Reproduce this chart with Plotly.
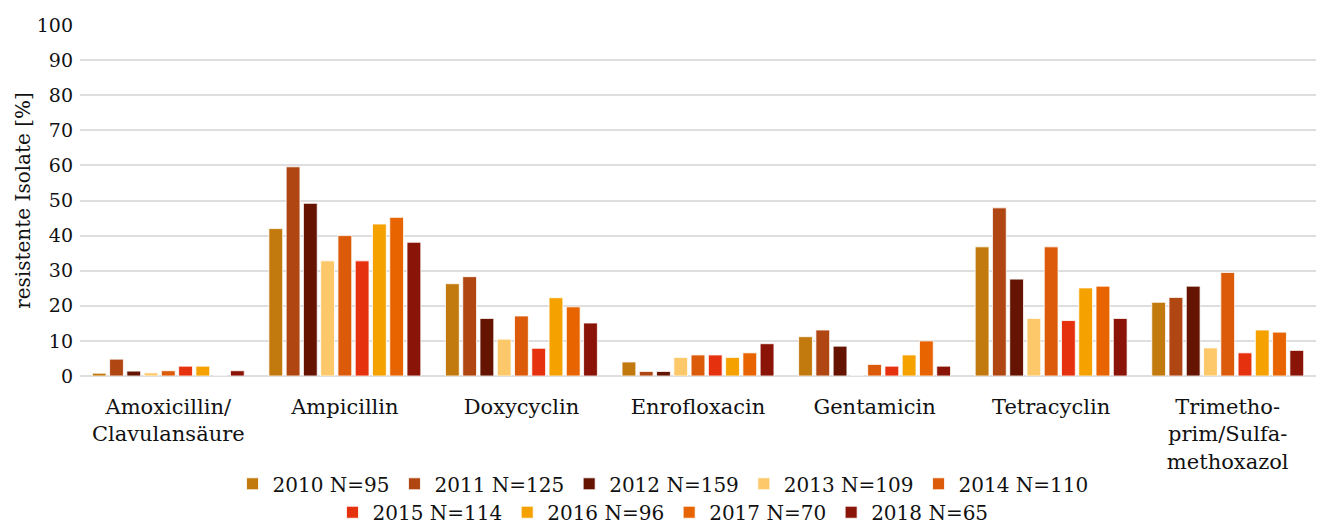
import plotly.graph_objects as go

categories = ["Amoxicillin/<br>Clavulansäure", "Ampicillin", "Doxycyclin", "Enrofloxacin",
              "Gentamicin", "Tetracyclin", "Trimetho-<br>prim/Sulfa-<br>methoxazol"]

series_names = ["2010 N=95", "2011 N=125", "2012 N=159", "2013 N=109", "2014 N=110",
                "2015 N=114", "2016 N=96", "2017 N=70", "2018 N=65"]

v2010 = [0.8, 42.0, 26.3, 4.0, 11.2, 36.8, 21.0]
v2011 = [4.8, 59.6, 28.3, 1.3, 13.1, 47.9, 22.4]
v2012 = [1.4, 49.2, 16.4, 1.3, 8.5, 27.6, 25.6]
v2013 = [0.9, 32.8, 10.5, 5.3, 0.0, 16.4, 8.0]
v2014 = [1.5, 40.0, 17.1, 6.0, 3.3, 36.8, 29.5]
v2015 = [2.8, 32.8, 7.9, 6.0, 2.8, 15.8, 6.6]
v2016 = [2.8, 43.3, 22.3, 5.3, 6.0, 25.1, 13.1]
v2017 = [0.0, 45.2, 19.7, 6.6, 10.0, 25.6, 12.5]
v2018 = [1.5, 38.1, 15.1, 9.2, 2.8, 16.4, 7.3]

series_values = [v2010, v2011, v2012, v2013, v2014, v2015, v2016, v2017, v2018]

colors = ["#C27A0E", "#B04713", "#641400", "#FDC86A", "#DC5B0A",
          "#E6310E", "#F5A100", "#E86400", "#891407"]

y_ticks = [0, 10, 20, 30, 40, 50, 60, 70, 80, 90, 100]

FONT = "DejaVu Serif"

fig = go.Figure()
for i, (name, vals, col) in enumerate(zip(series_names, series_values, colors)):
    fig.add_trace(go.Bar(
        x=categories, y=vals, name=name,
        marker=dict(color=col, line=dict(color="rgba(255,255,255,0.8)", width=1)),
        legend="legend" if i < 5 else "legend2",
    ))

legend_common = dict(
    orientation="h", xref="container", yref="container",
    xanchor="center", x=0.5, yanchor="middle",
    font=dict(family=FONT, size=20, color="#111"),
    bgcolor="rgba(0,0,0,0)", itemclick=False, tracegroupgap=0,
)

fig.update_layout(
    width=1326, height=527,
    margin=dict(l=80, r=10, t=25, b=151, autoexpand=False),
    paper_bgcolor="white", plot_bgcolor="white",
    barmode="group", bargap=0.12, bargroupgap=0.2,
    font=dict(family=FONT, size=20, color="#111"),
    legend=dict(**legend_common, y=0.082),
    legend2=dict(**legend_common, y=0.028),
    xaxis=dict(
        showgrid=False, showline=False, ticks="", automargin=False,
        tickfont=dict(family=FONT, size=21, color="#111"),
        ticklabelstandoff=16,
    ),
    yaxis=dict(
        range=[0, 100], tickvals=y_ticks, ticktext=[str(t) for t in y_ticks],
        showgrid=True, gridcolor="#dedede", gridwidth=2, automargin=False,
        zeroline=True, zerolinecolor="#dedede", zerolinewidth=2,
        tickfont=dict(family=FONT, size=19, color="#111"),
        ticklabelstandoff=6,
        title=dict(text="resistente Isolate [%]", font=dict(family=FONT, size=20, color="#111"), standoff=0),
    ),
)

fig.write_html("out.html", config={"displayModeBar": False},
               post_script="document.body.style.margin='0';document.body.style.overflow='hidden';")
